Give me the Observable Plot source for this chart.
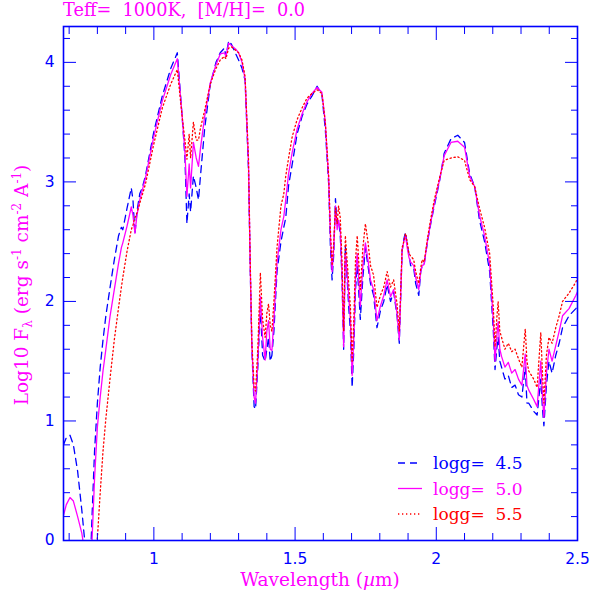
<!DOCTYPE html>
<html><head><meta charset="utf-8">
<script src="https://cdn.jsdelivr.net/npm/d3@7"></script>
<script src="https://cdn.jsdelivr.net/npm/@observablehq/plot@0.6"></script>
<style>
body{margin:0;background:#fff;}
#wrap{position:relative;width:591px;height:595px;}
#title{position:absolute;left:63px;top:0px;font:17.7px "DejaVu Serif";color:#ff00ff;white-space:pre;}
</style></head><body>
<div id="wrap"><div id="title">Teff=  1000K,  [M/H]=  0.0</div><div id="chart"></div></div>
<script>
const wavelength = [
 0.68,0.69,0.703,0.715,0.73,0.745,0.755,0.765,0.775,0.781,
 0.79,0.80,0.81,0.82,0.83,0.845,0.86,0.875,0.885,0.89,
 0.905,0.92,0.926,0.933,0.94,0.95,0.96,0.97,1.00,1.03,
 1.06,1.083,1.10,1.11,1.117,1.125,1.13,1.14,1.15,1.158,
 1.165,1.18,1.20,1.22,1.235,1.25,1.255,1.265,1.275,1.29,
 1.30,1.312,1.323,1.335,1.341,1.347,1.355,1.36,1.368,1.377,
 1.385,1.394,1.40,1.406,1.412,1.418,1.425,1.436,1.45,1.46,
 1.467,1.477,1.49,1.507,1.525,1.542,1.56,1.578,1.595,1.607,
 1.619,1.625,1.631,1.637,1.643,1.649,1.654,1.66,1.666,1.672,
 1.678,1.684,1.69,1.696,1.702,1.708,1.714,1.72,1.725,1.731,
 1.74,1.749,1.758,1.767,1.778,1.79,1.802,1.814,1.826,1.838,
 1.849,1.861,1.869,1.879,1.885,1.891,1.897,1.903,1.909,1.92,
 1.927,1.938,1.945,1.95,1.957,1.969,1.981,1.993,2.011,2.028,
 2.052,2.076,2.10,2.118,2.136,2.153,2.171,2.189,2.202,2.208,
 2.214,2.219,2.225,2.231,2.243,2.255,2.267,2.279,2.291,2.303,
 2.315,2.321,2.327,2.345,2.357,2.37,2.376,2.381,2.39,2.399,
 2.41,2.423,2.435,2.447,2.47,2.494,2.50
];
const logg45 = [
 0.80,0.86,0.88,0.80,0.58,0.25,0.00,-0.50,-0.20,0.20,
 0.75,1.15,1.45,1.68,1.88,2.12,2.35,2.55,2.62,2.60,
 2.78,2.95,2.85,2.56,2.75,2.90,2.96,3.05,3.42,3.72,
 3.95,4.08,3.55,3.20,2.65,2.90,2.75,3.05,2.95,2.85,
 3.05,3.45,3.82,4.00,4.08,4.12,4.05,4.18,4.15,4.07,
 4.02,3.95,3.85,3.10,2.30,1.60,1.12,1.10,1.45,1.95,
 1.55,1.50,1.60,1.70,1.50,1.55,1.75,2.25,2.50,2.62,
 2.70,2.97,3.15,3.40,3.55,3.65,3.72,3.80,3.73,3.44,
 2.98,2.46,2.18,2.40,2.86,2.65,2.68,2.55,2.20,1.60,
 2.46,2.20,1.95,1.75,1.28,1.60,2.10,2.30,2.10,1.85,
 2.20,2.45,2.30,2.15,2.05,1.78,1.92,2.00,2.14,2.00,
 2.08,1.88,1.65,2.42,2.52,2.58,2.47,2.40,2.30,2.28,
 2.15,2.05,2.25,2.30,2.31,2.50,2.66,2.80,3.00,3.24,
 3.36,3.39,3.33,3.07,2.96,2.68,2.50,2.25,1.75,1.43,
 1.60,1.70,1.50,1.45,1.35,1.38,1.28,1.30,1.22,1.20,
 1.45,1.15,1.15,1.08,1.05,1.35,1.10,0.96,1.30,1.50,
 1.40,1.55,1.65,1.78,1.88,1.94,1.96
];
const logg50 = [
 0.21,0.30,0.36,0.33,0.20,0.06,-0.10,-0.60,-0.30,0.00,
 0.52,0.95,1.20,1.42,1.60,1.88,2.10,2.32,2.45,2.49,
 2.63,2.79,2.72,2.57,2.72,2.85,2.94,3.03,3.38,3.68,
 3.90,4.03,3.55,3.25,2.88,3.15,2.95,3.33,3.20,3.13,
 3.28,3.55,3.83,3.98,4.07,4.08,4.05,4.16,4.14,4.11,
 4.08,4.00,3.86,3.16,2.32,1.62,1.20,1.15,1.50,2.04,
 1.70,1.51,1.75,1.84,1.60,1.59,1.85,2.32,2.60,2.71,
 2.85,3.07,3.25,3.44,3.57,3.67,3.74,3.79,3.75,3.50,
 3.02,2.55,2.25,2.45,2.80,2.60,2.68,2.60,2.25,1.62,
 2.40,2.24,2.04,1.84,1.38,1.70,2.20,2.40,2.21,1.96,
 2.30,2.49,2.35,2.18,2.10,1.84,1.96,2.05,2.18,2.04,
 2.10,1.90,1.68,2.43,2.50,2.55,2.45,2.37,2.33,2.30,
 2.20,2.10,2.25,2.30,2.31,2.51,2.67,2.82,3.01,3.22,
 3.33,3.34,3.29,3.05,2.96,2.72,2.55,2.31,1.83,1.50,
 1.70,1.83,1.60,1.54,1.45,1.49,1.40,1.43,1.35,1.30,
 1.56,1.30,1.26,1.18,1.12,1.50,1.20,1.03,1.40,1.60,
 1.50,1.63,1.75,1.88,1.94,2.05,2.08
];
const logg55 = [
 -0.60,-0.50,-0.45,-0.50,-0.70,-1.00,-1.20,-1.40,-1.00,-0.60,
 -0.20,0.02,0.40,0.75,1.02,1.36,1.68,1.95,2.12,2.20,
 2.42,2.60,2.64,2.70,2.74,2.82,2.90,2.98,3.32,3.62,
 3.82,3.94,3.55,3.35,3.19,3.40,3.20,3.50,3.35,3.35,
 3.45,3.60,3.82,3.95,4.02,4.05,4.03,4.12,4.13,4.10,
 4.08,4.02,3.88,3.20,2.35,1.66,1.28,1.25,1.60,2.24,
 1.85,1.70,1.90,1.98,1.80,1.75,2.00,2.45,2.80,2.90,
 3.05,3.20,3.38,3.52,3.62,3.70,3.74,3.77,3.74,3.50,
 3.05,2.60,2.30,2.50,2.78,2.65,2.80,2.70,2.35,1.75,
 2.55,2.35,2.15,1.95,1.50,1.85,2.35,2.55,2.35,2.10,
 2.45,2.65,2.50,2.30,2.22,1.95,2.05,2.12,2.25,2.12,
 2.18,1.98,1.75,2.45,2.50,2.57,2.50,2.40,2.38,2.35,
 2.25,2.15,2.28,2.35,2.33,2.53,2.70,2.85,3.03,3.18,
 3.20,3.21,3.18,3.02,2.96,2.78,2.62,2.40,1.95,1.62,
 1.85,2.00,1.75,1.70,1.60,1.65,1.58,1.60,1.52,1.45,
 1.77,1.50,1.42,1.35,1.28,1.74,1.40,1.15,1.55,1.70,
 1.65,1.78,1.88,2.00,2.07,2.16,2.20
];
const seriesNames = ["logg=  4.5", "logg=  5.0", "logg=  5.5"];
const seriesColors = ["#0000ff", "#ff00ff", "#ff0000"];
const seriesDash = ["7,5", null, "1.3,2.7"];
const xMajorTicks = [1, 1.5, 2, 2.5];
const xMinorTicks = [0.7,0.8,0.9,1.1,1.2,1.3,1.4,1.6,1.7,1.8,1.9,2.1,2.2,2.3,2.4];
const yMajorTicks = [0, 1, 2, 3, 4];
const yMinorTicks = [0.2,0.4,0.6,0.8,1.2,1.4,1.6,1.8,2.2,2.4,2.6,2.8,3.2,3.4,3.6,3.8,4.2];

const seriesValues = [logg45, logg50, logg55];
const rows = seriesValues.map(vals => wavelength.map((w, i) => ({w, f: vals[i]})));

const blue = "#0000ff";
const tickOpts = (anchor, size) => ({anchor, tickSize: size, tickFormat: () => "", stroke: blue, strokeWidth: 1, label: null});

const marks = [];
rows.forEach((r, k) => {
  marks.push(Plot.line(r, {x: "w", y: "f", stroke: seriesColors[k], strokeWidth: 1.3,
    strokeDasharray: seriesDash[k], clip: true}));
});
marks.push(
  Plot.axisX(xMinorTicks, tickOpts("bottom", -7)),
  Plot.axisX(xMinorTicks, tickOpts("top", -7)),
  Plot.axisX(xMajorTicks, tickOpts("bottom", -13)),
  Plot.axisX(xMajorTicks, tickOpts("top", -13)),
  Plot.axisY(yMinorTicks, tickOpts("left", -7)),
  Plot.axisY(yMinorTicks, tickOpts("right", -7)),
  Plot.axisY(yMajorTicks, tickOpts("left", -13)),
  Plot.axisY(yMajorTicks, tickOpts("right", -13)),
  Plot.axisX(xMajorTicks, {anchor: "bottom", tickSize: 0, tickPadding: 12, fill: blue, label: null, tickFormat: d => String(d)}),
  Plot.axisY(yMajorTicks, {anchor: "left", tickSize: 0, tickPadding: 9, fill: blue, label: null, tickFormat: d => String(d)}),
  Plot.frame({stroke: blue, strokeWidth: 1.6})
);

const svg = Plot.plot({
  width: 591, height: 595,
  marginTop: 26, marginLeft: 63, marginRight: 14, marginBottom: 55,
  x: {domain: [0.68, 2.5]},
  y: {domain: [0, 4.3]},
  style: {fontFamily: "'DejaVu Sans'", fontSize: "15.5px", background: "white", color: blue},
  marks
});
document.getElementById("chart").appendChild(svg);

const s = d3.select(svg);
// y label
const yl = s.append("text")
  .attr("transform", "translate(28,285) rotate(-90)")
  .attr("text-anchor", "middle")
  .attr("fill", "#ff00ff")
  .style("font-family", "'DejaVu Serif'").style("font-size", "18.5px");
yl.append("tspan").text("Log10 F");
yl.append("tspan").attr("dy", 4).style("font-size", "12px").text("λ");
yl.append("tspan").attr("dy", -4).text(" (erg s");
yl.append("tspan").attr("dy", -7).style("font-size", "12px").text("-1");
yl.append("tspan").attr("dy", 7).text(" cm");
yl.append("tspan").attr("dy", -7).style("font-size", "12px").text("-2");
yl.append("tspan").attr("dy", 7).text(" A");
yl.append("tspan").attr("dy", -7).style("font-size", "12px").text("-1");
yl.append("tspan").attr("dy", 7).text(")");
// x label
const xl = s.append("text")
  .attr("x", 320).attr("y", 586)
  .attr("text-anchor", "middle")
  .attr("fill", "#ff00ff")
  .style("font-family", "'DejaVu Serif'").style("font-size", "18.5px");
xl.append("tspan").text("Wavelength (");
xl.append("tspan").style("font-style", "italic").text("µ");
xl.append("tspan").text("m)");
// legend
const lg = s.append("g");
seriesNames.forEach((name, k) => {
  const y = 463 + k * 25.5;
  lg.append("line").attr("x1", 398).attr("x2", 422).attr("y1", y).attr("y2", y)
    .attr("stroke", seriesColors[k]).attr("stroke-width", 1.3)
    .attr("stroke-dasharray", seriesDash[k]);
  lg.append("text").attr("x", 433).attr("y", y + 6)
    .attr("text-anchor", "start")
    .attr("fill", seriesColors[k])
    .style("font-family", "'DejaVu Serif'").style("font-size", "17px")
    .style("white-space", "pre").attr("xml:space", "preserve")
    .text(name);
});
</script>
</body></html>
